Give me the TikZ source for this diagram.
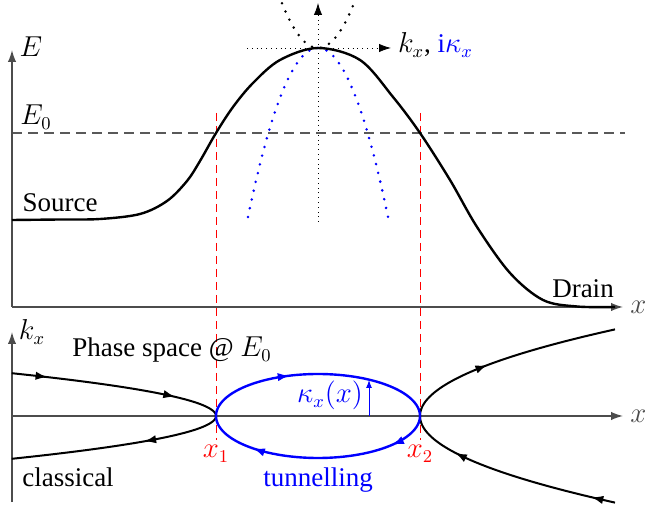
\documentclass[tikz,border=0pt]{standalone}
\usepackage{fontspec}
\setmainfont{Liberation Serif}
\usetikzlibrary{arrows.meta,decorations.markings}

\begin{document}
\begin{tikzpicture}[
    x=0.5pt,
    y=0.5pt,
    font=\fontsize{13.5}{16}\selectfont,
    tri/.tip={Latex[length=6pt,width=4.2pt]},
    >=tri,
    axis/.style={black!70, line width=0.7pt, ->},
    dots/.style={line width=1.4pt, line cap=round, dash pattern=on 0pt off 4.5pt},
    turn/.style={red, line width=0.5pt, dash pattern=on 4pt off 2.5pt},
    traj/.style={line width=1pt, postaction={decorate}},
    mk/.style={decoration={markings, mark=at position #1 with {\arrow{tri}}}}
]
\useasboundingbox (0,0) rectangle (651,507);

\draw[black!65, line width=0.7pt, dash pattern=on 5pt off 3pt] (12,374) -- (625,374);
\draw[turn] (216,394) -- (216,67);
\draw[turn] (420,394) -- (420,67);

\draw[axis] (12,200) -- (12,457);
\draw[axis] (12,200) -- (623,200) node[right] (xtop) {$x$};
\node[anchor=base] (lblE) at (31,450) {$E$};
\node[anchor=base] (lblEzero) at (36,382) {$E_0$};
\node[anchor=base] (src) at (60,295) {Source};
\node[anchor=base] (drn) at (583,209) {Drain};

\draw[dotted, ->] (318,285) -- (318,504);
\draw[dotted, ->] (247,459) -- (391,459)
    node[anchor=base west, yshift=-2.5pt] (kxi) {$k_x$, \textcolor{blue}{$\mathrm{i}\kappa_x$}};
\draw[dots] plot[domain=-36:36, samples=37] ({318+\x},{459+0.0345*\x*\x});
\draw[dots, blue] plot[domain=-70:70, samples=71] ({318+\x},{459-0.0345*\x*\x});

\draw[line width=1.2pt] plot[smooth, tension=0.55] coordinates {
    (12,287) (60,287.5) (100,288) (140,293) (167,306) (187,326) (200,346)
    (216,374) (233,400) (253,424) (280,447) (318,459)
    (360,447) (393,410) (420,374) (450,327) (477,280) (510,234) (543,207)
    (577,200.5) (615,200)};

\draw[axis] (12,5) -- (12,175);
\draw[axis] (12,91) -- (623,91) node[right] (xbot) {$x$};
\node[anchor=base] (kx) at (32,167) {$k_x$};
\node[anchor=base] (phase) at (172,150) {Phase space @ $E_0$};

\draw[traj, mk=0.17, mk=0.78] plot[domain=42.8:0, samples=60] ({216-0.1115*\x*\x},{91+\x});
\draw[traj, mk=0.37] plot[domain=0:42.8, samples=60] ({216-0.1115*\x*\x},{91-\x});
\draw[traj, mk=0.4] plot[domain=0:86.6, samples=60] ({420+0.026*\x*\x},{91+\x});
\draw[traj, mk=0.11, mk=0.76] plot[domain=86.6:0, samples=60] ({420+0.026*\x*\x},{91-\x});

\draw[traj, blue, line width=1.2pt, mk=0.19, mk=0.59, mk=0.89]
    plot[domain=180:-180, samples=121] ({318+102*cos(\x)},{91+42*sin(\x)});
\draw[blue, line width=0.5pt, -{Latex[length=4pt,width=3pt]}] (369,91) -- (369,127);
\node[anchor=base, blue] (kap) at (330,104) {$\kappa_x(x)$};

\node[anchor=base, red] (xone) at (216,49) {$x_1$};
\node[anchor=base, red] (xtwo) at (420,49) {$x_2$};
\node[anchor=base] (cls) at (68,20) {classical};
\node[anchor=base, blue] (tun) at (318,20) {tunnelling};
\end{tikzpicture}
\end{document}
